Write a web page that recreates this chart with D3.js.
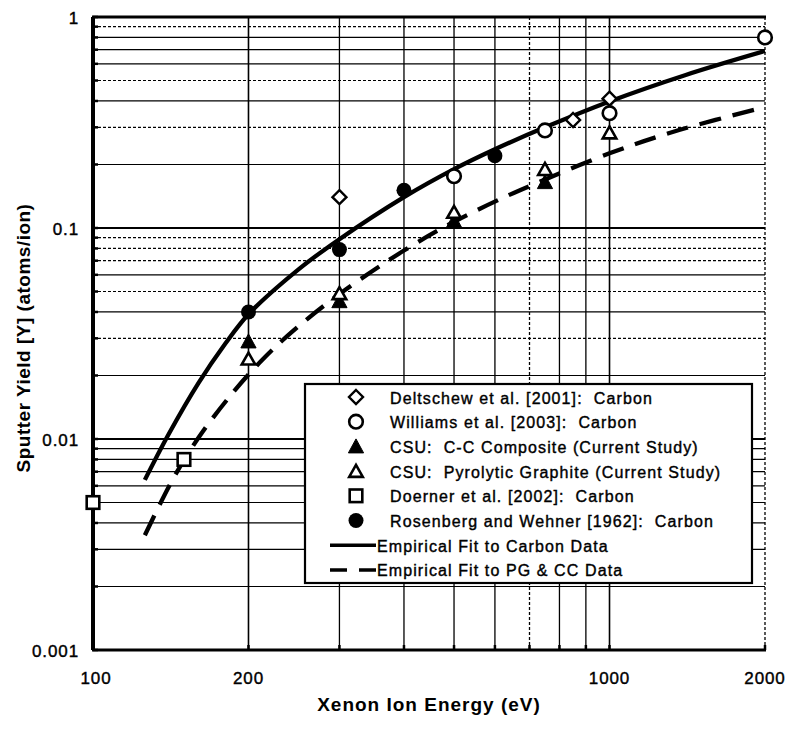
<!DOCTYPE html>
<html>
<head>
<meta charset="utf-8">
<script src="https://cdn.jsdelivr.net/npm/d3@7"></script>
<style>
  html, body { margin: 0; padding: 0; background: #fff; }
  svg { display: block; }
  text { font-family: "Liberation Sans", Arial, sans-serif; fill: #000; white-space: pre; }
  .thick { stroke: #000; stroke-width: 0.4px; }
</style>
</head>
<body>
<svg id="chart" width="787" height="729"></svg>
<script>
// ---------- data ----------
const xTickLabels = [100, 200, 1000, 2000];
const yTickLabels = [0.001, 0.01, 0.1, 1];
const xGridValues = [200, 300, 400, 500, 600, 700, 800, 900, 1000, 2000];

const deltschewX = [300, 850, 1000];
const deltschewY = [0.14, 0.325, 0.41];

const williamsX = [500, 750, 1000, 2000];
const williamsY = [0.176, 0.29, 0.35, 0.80];

const csuCCX = [200, 300, 500, 750];
const csuCCY = [0.029, 0.045, 0.108, 0.165];

const csuPGX = [200, 300, 500, 750, 1000];
const csuPGY = [0.024, 0.049, 0.119, 0.19, 0.283];

const doernerX = [100, 150];
const doernerY = [0.005, 0.008];

const rosenbergX = [200, 300, 400, 600];
const rosenbergY = [0.04, 0.079, 0.151, 0.22];

const fitCarbonX = [126, 140, 160, 180, 200, 250, 300, 400, 500, 600, 750, 1000, 1400, 2000];
const fitCarbonY = [0.0064, 0.0105, 0.0184, 0.0281, 0.039, 0.0637, 0.0885, 0.140, 0.19, 0.236, 0.30, 0.398, 0.53, 0.69];

const fitPGCCX = [126, 143, 161, 187, 213, 244, 300, 400, 500, 622, 700, 1000, 1369, 2000];
const fitPGCCY = [0.0035, 0.0065, 0.01035, 0.0167, 0.0238, 0.0325, 0.0486, 0.0782, 0.107, 0.139, 0.158, 0.226, 0.292, 0.374];

const legendLabels = [
  "Deltschew et al. [2001]:  Carbon",
  "Williams et al. [2003]:  Carbon",
  "CSU:  C-C Composite (Current Study)",
  "CSU:  Pyrolytic Graphite (Current Study)",
  "Doerner et al. [2002]:  Carbon",
  "Rosenberg and Wehner [1962]:  Carbon",
  "Empirical Fit to Carbon Data",
  "Empirical Fit to PG & CC Data"
];
const legendKinds = ["diamond", "circleOpen", "triFilled", "triOpen", "square", "circleFilled", "solid", "dashed"];

// ---------- layout ----------
const L = 93, R = 765, T = 17, B = 650;
const svg = d3.select("#chart");
const x = d3.scaleLog().domain([100, 2000]).range([L, R]);
const y = d3.scaleLog().domain([0.001, 1]).range([B, T]);

// horizontal grid values: every 1..9 in each decade
const yGrid = [];
[0.001, 0.01, 0.1].forEach(d => { for (let m = 1; m <= 9; m++) yGrid.push(+(d * m).toPrecision(3)); });
yGrid.push(1);
const dottedY = [0.9, 0.5, 0.3, 0.09, 0.08, 0.07, 0.05, 0.03];

const grid = svg.append("g");
grid.selectAll("line.h").data(yGrid).join("line")
  .attr("x1", L).attr("x2", R)
  .attr("y1", d => y(d)).attr("y2", d => y(d))
  .attr("stroke", "#000")
  .attr("stroke-width", d => (Math.abs(Math.log10(d) - Math.round(Math.log10(d))) < 1e-6) ? 1.8 : 1.2)
  .attr("stroke-dasharray", d => dottedY.includes(d) ? "3,2" : null);

grid.selectAll("line.v").data(xGridValues).join("line")
  .attr("x1", d => x(d)).attr("x2", d => x(d))
  .attr("y1", T).attr("y2", B)
  .attr("stroke", "#000")
  .attr("stroke-width", d => (d === 1000 || d === 200) ? 1.6 : 1.3)
  .attr("stroke-dasharray", d => (d === 700 || d === 2000) ? "3,2" : null);

// small inner ticks on left and bottom axes
grid.selectAll("line.lt").data(yGrid).join("line")
  .attr("x1", L).attr("x2", L + 5)
  .attr("y1", d => y(d)).attr("y2", d => y(d))
  .attr("stroke", "#000").attr("stroke-width", 2.5);
grid.selectAll("line.bt").data(xGridValues).join("line")
  .attr("x1", d => x(d)).attr("x2", d => x(d))
  .attr("y1", B).attr("y2", B - 5)
  .attr("stroke", "#000").attr("stroke-width", 2.5);

// frame (top, left, bottom thick)
svg.append("line").attr("x1", L - 1).attr("x2", R + 1).attr("y1", T).attr("y2", T).attr("stroke", "#000").attr("stroke-width", 3.2);
svg.append("line").attr("x1", L).attr("x2", L).attr("y1", T).attr("y2", B).attr("stroke", "#000").attr("stroke-width", 4);
svg.append("line").attr("x1", L - 1).attr("x2", R + 1).attr("y1", B).attr("y2", B).attr("stroke", "#000").attr("stroke-width", 3.2);

// ---------- tick labels ----------
svg.append("g").selectAll("text").data(yTickLabels).join("text")
  .attr("class", "thick")
  .attr("x", 79).attr("y", d => y(d) + 1)
  .attr("text-anchor", "end").attr("dominant-baseline", "central")
  .attr("font-size", 17).attr("letter-spacing", 0.9)
  .text(d => d3.format("")(d));
svg.append("g").selectAll("text").data(xTickLabels).join("text")
  .attr("class", "thick")
  .attr("x", d => x(d) + (d === 100 ? 3 : 0)).attr("y", 678)
  .attr("text-anchor", "middle").attr("dominant-baseline", "central")
  .attr("font-size", 17).attr("letter-spacing", 0.9)
  .text(d => d);

// axis titles
svg.append("text").attr("x", 429).attr("y", 704)
  .attr("text-anchor", "middle").attr("dominant-baseline", "central")
  .attr("font-size", 19).attr("font-weight", "bold").attr("letter-spacing", 1)
  .text("Xenon Ion Energy (eV)");
svg.append("text")
  .attr("transform", "translate(23,338) rotate(-90)")
  .attr("text-anchor", "middle").attr("dominant-baseline", "central")
  .attr("font-size", 19).attr("font-weight", "bold").attr("letter-spacing", 0.5)
  .text("Sputter Yield [Y] (atoms/ion)");

// ---------- curves ----------
const line = d3.line().x(d => x(d[0])).y(d => y(d[1])).curve(d3.curveCatmullRom.alpha(0.5));
const carbonPts = fitCarbonX.map((v, i) => [v, fitCarbonY[i]]);
const pgccPts = fitPGCCX.map((v, i) => [v, fitPGCCY[i]]);
svg.append("path").attr("d", line(carbonPts)).attr("fill", "none")
  .attr("stroke", "#000").attr("stroke-width", 4.3);
svg.append("path").attr("d", line(pgccPts)).attr("fill", "none")
  .attr("stroke", "#000").attr("stroke-width", 4.3).attr("stroke-dasharray", "22,12");

// ---------- markers ----------
function drawMarker(g, kind, cx, cy) {
  if (kind === "diamond") {
    const s = 7;
    g.append("path").attr("d", `M${cx},${cy - s}L${cx + s},${cy}L${cx},${cy + s}L${cx - s},${cy}Z`)
      .attr("fill", "#fff").attr("stroke", "#000").attr("stroke-width", 2.4);
  } else if (kind === "circleOpen") {
    g.append("circle").attr("cx", cx).attr("cy", cy).attr("r", 6.8)
      .attr("fill", "#fff").attr("stroke", "#000").attr("stroke-width", 2.6);
  } else if (kind === "circleFilled") {
    g.append("circle").attr("cx", cx).attr("cy", cy).attr("r", 7.5).attr("fill", "#000");
  } else if (kind === "triFilled") {
    const h = 13, w = 7.6;
    g.append("path").attr("d", `M${cx},${cy - h / 2 - 1}L${cx + w},${cy + h / 2}L${cx - w},${cy + h / 2}Z`)
      .attr("fill", "#000").attr("stroke", "#000").attr("stroke-width", 1);
  } else if (kind === "triOpen") {
    const h = 12.5, w = 6.8;
    g.append("path").attr("d", `M${cx},${cy - h / 2}L${cx + w},${cy + h / 2 - 0.5}L${cx - w},${cy + h / 2 - 0.5}Z`)
      .attr("fill", "#fff").attr("stroke", "#000").attr("stroke-width", 2.6).attr("stroke-linejoin", "miter");
  } else if (kind === "square") {
    const s = 6.3;
    g.append("rect").attr("x", cx - s).attr("y", cy - s).attr("width", 2 * s).attr("height", 2 * s)
      .attr("fill", "#fff").attr("stroke", "#000").attr("stroke-width", 2.6);
  }
}
const mk = svg.append("g");
function series(xs, ys, kind) { xs.forEach((v, i) => drawMarker(mk, kind, x(v), y(ys[i]))); }
series(rosenbergX, rosenbergY, "circleFilled");
series(csuCCX, csuCCY, "triFilled");
series(csuPGX, csuPGY, "triOpen");
series(doernerX, doernerY, "square");
series(williamsX, williamsY, "circleOpen");
series(deltschewX, deltschewY, "diamond");

// ---------- legend ----------
const lg = svg.append("g");
lg.append("rect").attr("x", 305).attr("y", 384).attr("width", 447).attr("height", 199)
  .attr("fill", "#fff").attr("stroke", "#000").attr("stroke-width", 2.2);
legendLabels.forEach((lab, i) => {
  const ry = 397 + i * 24.7;
  const kind = legendKinds[i];
  if (kind === "solid") {
    lg.append("line").attr("x1", 330).attr("x2", 376).attr("y1", ry).attr("y2", ry)
      .attr("stroke", "#000").attr("stroke-width", 3.5);
  } else if (kind === "dashed") {
    lg.append("line").attr("x1", 330).attr("x2", 376).attr("y1", ry).attr("y2", ry)
      .attr("stroke", "#000").attr("stroke-width", 3.5).attr("stroke-dasharray", "17,12,17");
  } else {
    drawMarker(lg, kind, 356, ry);
  }
  lg.append("text").attr("class", "thick")
    .attr("x", (kind === "solid" || kind === "dashed") ? 377 : 390).attr("y", ry + 1)
    .attr("dominant-baseline", "central").attr("font-size", 16).attr("letter-spacing", 1.1)
    .text(lab);
});
</script>
</body>
</html>
